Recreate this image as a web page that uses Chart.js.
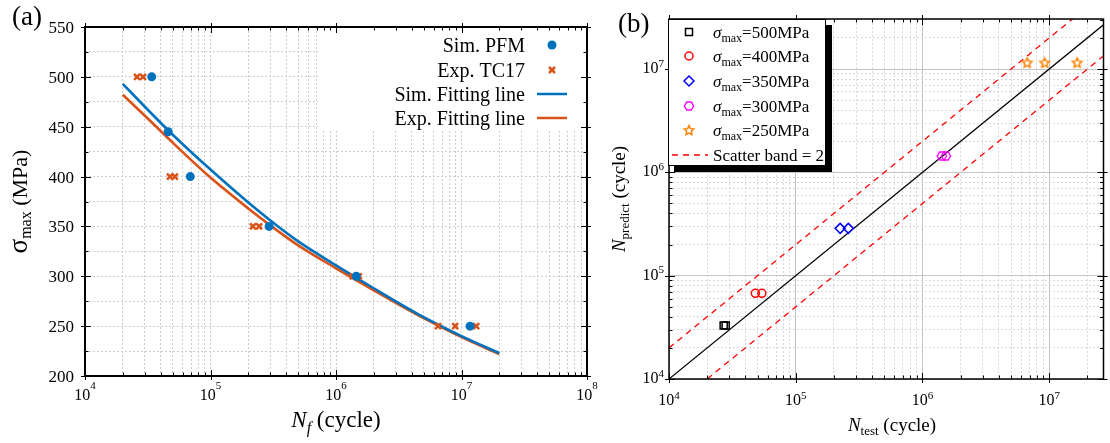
<!DOCTYPE html>
<html><head><meta charset="utf-8">
<script src="https://cdn.jsdelivr.net/npm/chart.js@4.4.1/dist/chart.umd.min.js"></script>
<style>
html,body{margin:0;padding:0;background:#fff;}
body{width:1110px;height:443px;position:relative;overflow:hidden;}
canvas{position:absolute;top:0;}
#ca{left:0;} #cb{left:610px;}
</style></head><body>
<canvas id="ca" width="610" height="443"></canvas>
<canvas id="cb" width="500" height="443"></canvas>
<script>
// ---------------- data ----------------
const decadesA = [1e4, 1e5, 1e6, 1e7, 1e8];
const decadesB = [1e4, 1e5, 1e6, 1e7];
const mults = [1, 2, 3, 4, 5, 6, 7, 8, 9];
const stressTicks = [200, 225, 250, 275, 300, 325, 350, 375, 400, 425, 450, 475, 500, 525, 550];
const stressLabels = [200, 250, 300, 350, 400, 450, 500, 550];

const simN = [3.4e4, 4.6e4, 6.9e4, 2.93e5, 1.45e6, 1.17e7];
const simS = [500, 445, 400, 350, 300, 250];
const expN = [2.6e4, 2.9e4, 4.75e4, 5.2e4, 2.18e5, 2.44e5, 1.36e6, 1.52e6, 6.5e6, 8.9e6, 1.31e7];
const expS = [500, 500, 400, 400, 350, 350, 300, 300, 250, 250, 250];
const fitN   = [2e4, 3e4, 5e4, 1e5, 2e5, 3e5, 5e5, 1e6, 2e6, 5e6, 1e7, 2e7];
const simFit = [493, 470, 442, 407, 374, 356, 335, 311, 288, 259, 240, 223];
const expFit = [482, 461, 434, 399, 368, 351, 331, 308, 286, 258, 239, 222];
const labelsA = ['Sim. PFM', 'Exp. TC17', 'Sim. Fitting line', 'Exp. Fitting line'];

const stressLevels = ['500', '400', '350', '300', '250'];
const test500 = [2.7e4, 2.8e4],  pred500 = [3.3e4, 3.3e4];
const test400 = [4.8e4, 5.4e4],  pred400 = [6.75e4, 6.75e4];
const test350 = [2.24e5, 2.6e5], pred350 = [2.87e5, 2.87e5];
const test300 = [1.42e6, 1.53e6], pred300 = [1.44e6, 1.44e6];
const test250 = [6.7e6, 9.2e6, 1.66e7], pred250 = [1.16e7, 1.16e7, 1.16e7];
const idealN = [1e4, 4e7], idealP = [1e4, 4e7];
const upperN = [1e4, 2e7], upperP = [2e4, 4e7];
const lowerN = [2e4, 4e7], lowerP = [1e4, 2e7];
const bandLabel = 'Scatter band = 2';

// ---------------- helpers ----------------
const SERIF = '"Liberation Serif","Times New Roman",Times,serif';
const pts = (xs, ys) => xs.map((v, i) => ({x: v, y: ys[i]}));
const isPow10 = v => Math.abs(Math.log10(v) - Math.round(Math.log10(v))) < 1e-9;
function logTicks(decs, min, max) {
  const out = [];
  decs.forEach(d => mults.forEach(m => { const v = d * m; if (v >= min * 0.999 && v <= max * 1.001) out.push(v); }));
  return out;
}
function fnt(size, italic) { return (italic ? 'italic ' : '') + size + 'px ' + SERIF; }
function drawRich(ctx, parts, x, y, align) {
  let w = 0;
  parts.forEach(p => { ctx.font = fnt(p[1], p[2]); w += ctx.measureText(p[0]).width; });
  let cx = align === 'center' ? x - w / 2 : (align === 'right' ? x - w : x);
  ctx.textAlign = 'left';
  ctx.textBaseline = 'alphabetic';
  parts.forEach(p => { ctx.font = fnt(p[1], p[2]); ctx.fillText(p[0], cx, y + (p[3] || 0)); cx += ctx.measureText(p[0]).width; });
}
function seg(ctx, x1, y1, x2, y2) { ctx.beginPath(); ctx.moveTo(x1, y1); ctx.lineTo(x2, y2); ctx.stroke(); }
function drawTicksFrame(chart, isMajX, isMajY, frameW) {
  const {ctx, chartArea: a, scales: {x, y}} = chart;
  ctx.save();
  ctx.strokeStyle = '#000';
  ctx.lineWidth = 1;
  x.ticks.forEach(t => {
    const px = Math.round(x.getPixelForValue(t.value)) + 0.5;
    const maj = isMajX(t.value);
    const inL = maj ? 6 : 3.5, outL = maj ? 4 : 0;
    seg(ctx, px, a.bottom + outL, px, a.bottom - inL);
    seg(ctx, px, a.top - outL, px, a.top + inL);
  });
  y.ticks.forEach(t => {
    const py = Math.round(y.getPixelForValue(t.value)) + 0.5;
    const maj = isMajY(t.value);
    const inL = maj ? 6 : 3.5, outL = maj ? 4 : 0;
    seg(ctx, a.left - outL, py, a.left + inL, py);
    seg(ctx, a.right + outL, py, a.right - inL, py);
  });
  ctx.lineWidth = frameW;
  ctx.strokeRect(a.left, a.top, a.right - a.left, a.bottom - a.top);
  ctx.restore();
}
function makeStar(color, r) {
  const s = Math.ceil(2 * r + 4), c = document.createElement('canvas');
  c.width = c.height = s;
  const g = c.getContext('2d');
  g.strokeStyle = color; g.lineWidth = 1.5; g.lineJoin = 'miter';
  g.beginPath();
  for (let i = 0; i < 10; i++) {
    const rr = i % 2 ? r * 0.48 : r, ang = -Math.PI / 2 + i * Math.PI / 5;
    g.lineTo(s / 2 + rr * Math.cos(ang), s / 2 + 0.6 + rr * Math.sin(ang));
  }
  g.closePath(); g.stroke();
  return c;
}
function makeHex(color, r) {
  const s = Math.ceil(2 * r + 4), c = document.createElement('canvas');
  c.width = c.height = s;
  const g = c.getContext('2d');
  g.strokeStyle = color; g.lineWidth = 1.4;
  g.beginPath();
  for (let i = 0; i < 6; i++) {
    const ang = i * Math.PI / 3;
    g.lineTo(s / 2 + r * Math.cos(ang), s / 2 + r * Math.sin(ang));
  }
  g.closePath(); g.stroke();
  return c;
}

// ---------------- panel (a) ----------------
const BLUE = '#0072BD', ORANGE = '#D95319';
const ticksA = logTicks(decadesA, 1e4, 1e8);

const plugA = {
  id: 'decoA',
  beforeDatasetsDraw(chart) {
    const {ctx, chartArea: a} = chart;
    ctx.save(); ctx.fillStyle = '#fff';
    ctx.fillRect(318, a.top + 1, a.right - 318, 128 - a.top);
    ctx.restore();
  },
  afterDraw(chart) {
    const {ctx, chartArea: a, scales: {x, y}} = chart;
    drawTicksFrame(chart, isPow10, v => v % 50 === 0, 2);
    ctx.save();
    ctx.fillStyle = '#000';
    decadesA.forEach(v => {
      const px = x.getPixelForValue(v);
      drawRich(ctx, [['10', 16], [String(Math.round(Math.log10(v))), 11, false, -11]], px, 400, 'center');
    });
    ctx.font = fnt(17); ctx.textAlign = 'right'; ctx.textBaseline = 'alphabetic';
    stressLabels.forEach(v => ctx.fillText(String(v), 74, y.getPixelForValue(v) + 6));
    // axis titles
    drawRich(ctx, [['N', 23, true], ['f', 16, true, 6], [' (cycle)', 23]], (a.left + a.right) / 2, 427, 'center');
    ctx.save();
    ctx.translate(27, (a.top + a.bottom) / 2);
    ctx.rotate(-Math.PI / 2);
    drawRich(ctx, [['σ', 27], ['max', 16, false, 4], [' (MPa)', 22]], 0, 0, 'center');
    ctx.restore();
    drawRich(ctx, [['(a)', 27]], 12, 25, 'left');
    // legend
    const rows = [45, 70, 94, 118];
    const ds = chart.data.datasets;
    rows.forEach((ry, i) => {
      ctx.fillStyle = '#000';
      drawRich(ctx, [[labelsA[i], 20]], 525, ry + 7, 'right');
    });
    ctx.fillStyle = ds[0].backgroundColor;
    ctx.beginPath(); ctx.arc(552, rows[0], 4.5, 0, Math.PI * 2); ctx.fill();
    ctx.strokeStyle = ds[1].borderColor; ctx.lineWidth = 2.5;
    seg(ctx, 549, rows[1] - 3, 555, rows[1] + 3); seg(ctx, 549, rows[1] + 3, 555, rows[1] - 3);
    ctx.lineWidth = 2.5;
    ctx.strokeStyle = ds[2].borderColor; seg(ctx, 537, rows[2], 567, rows[2]);
    ctx.strokeStyle = ds[3].borderColor; seg(ctx, 537, rows[3], 567, rows[3]);
    ctx.restore();
  }
};

new Chart(document.getElementById('ca'), {
  type: 'scatter',
  data: {
    datasets: [
      {label: labelsA[0], data: pts(simN, simS), backgroundColor: BLUE, borderColor: BLUE, pointStyle: 'circle', pointRadius: 4.5, borderWidth: 0},
      {label: labelsA[1], data: pts(expN, expS), backgroundColor: ORANGE, borderColor: ORANGE, pointStyle: 'crossRot', pointRadius: 4.2, borderWidth: 2.5},
      {label: labelsA[2], data: pts(fitN, simFit), showLine: true, borderColor: BLUE, backgroundColor: BLUE, borderWidth: 2.6, pointRadius: 0, cubicInterpolationMode: 'monotone'},
      {label: labelsA[3], data: pts(fitN, expFit), showLine: true, borderColor: ORANGE, backgroundColor: ORANGE, borderWidth: 2.6, pointRadius: 0, cubicInterpolationMode: 'monotone'}
    ]
  },
  options: {
    responsive: false, animation: false,
    layout: {padding: {left: 0, right: 23, top: 27, bottom: 0}},
    plugins: {legend: {display: false}, tooltip: {enabled: false}},
    scales: {
      x: {type: 'logarithmic', min: 1e4, max: 1e8,
          afterBuildTicks: s => { s.ticks = ticksA.map(v => ({value: v, major: isPow10(v)})); },
          afterFit: s => { s.height = 67; },
          ticks: {display: false},
          grid: {color: '#cfcfcf', lineWidth: 1, drawTicks: false},
          border: {display: false, dash: [2, 2]}},
      y: {type: 'linear', min: 200, max: 550,
          afterBuildTicks: s => { s.ticks = stressTicks.map(v => ({value: v})); },
          afterFit: s => { s.width = 85; },
          ticks: {display: false},
          grid: {color: '#cfcfcf', lineWidth: 1, drawTicks: false},
          border: {display: false, dash: [2, 2]}}
    }
  },
  plugins: [plugA]
});

// ---------------- panel (b) ----------------
const XMAXB = 2.68e7, YMAXB = 3.05e7;
const ticksBx = logTicks(decadesB, 1e4, XMAXB);
const ticksBy = logTicks(decadesB, 1e4, YMAXB);
const starImg = makeStar('#FF8000', 5);
const hexImg = makeHex('#FF00FF', 4.6);
const markerStyles = [
  {pointStyle: 'rect', pointRadius: 5, borderColor: '#000000'},
  {pointStyle: 'circle', pointRadius: 4, borderColor: '#FF0000'},
  {pointStyle: 'rectRot', pointRadius: 5, borderColor: '#0000FF'},
  {pointStyle: hexImg, pointRadius: 5, borderColor: '#FF00FF'},
  {pointStyle: starImg, pointRadius: 5, borderColor: '#FF8000'}
];
const seriesB = [[test500, pred500], [test400, pred400], [test350, pred350], [test300, pred300], [test250, pred250]];

const plugB = {
  id: 'decoB',
  afterDraw(chart) {
    const {ctx, chartArea: a, scales: {x, y}} = chart;
    drawTicksFrame(chart, isPow10, isPow10, 1.5);
    ctx.save();
    ctx.fillStyle = '#000';
    decadesB.forEach(v => {
      const e = String(Math.round(Math.log10(v)));
      drawRich(ctx, [['10', 16], [e, 11, false, -6.5]], x.getPixelForValue(v), 405, 'center');
      drawRich(ctx, [['10', 16], [e, 11, false, -6.5]], 54, y.getPixelForValue(v) + 4, 'right');
    });
    drawRich(ctx, [['N', 19, true], ['test', 13, false, 4], [' (cycle)', 19]], 282, 431, 'center');
    ctx.save();
    ctx.translate(15, (a.top + a.bottom) / 2);
    ctx.rotate(-Math.PI / 2);
    drawRich(ctx, [['N', 19, true], ['predict', 13, false, 4], [' (cycle)', 19]], 0, 0, 'center');
    ctx.restore();
    drawRich(ctx, [['(b)', 27]], 8, 32, 'left');
    // legend box with shadow
    const lx = a.left - 1, ly = a.top, lw = 157, lh = 146;
    ctx.fillStyle = '#000';
    ctx.fillRect(lx + 6, ly + 6, lw + 1, lh + 1);
    ctx.fillStyle = '#fff';
    ctx.fillRect(lx, ly, lw, lh);
    ctx.strokeStyle = '#000'; ctx.lineWidth = 1;
    ctx.strokeRect(lx + 0.5, ly + 0.5, lw, lh);
    const rows = [32, 56, 81, 106, 130, 155];
    const ds = chart.data.datasets;
    for (let i = 0; i < 5; i++) {
      const st = ds[i];
      const ry = rows[i];
      const sx = 79;
      ctx.strokeStyle = st.borderColor; ctx.lineWidth = 1.5;
      if (i === 0) { ctx.strokeRect(sx - 3.5, ry - 3.5, 7, 7); }
      else if (i === 1) { ctx.beginPath(); ctx.arc(sx, ry, 4, 0, Math.PI * 2); ctx.stroke(); }
      else if (i === 2) { ctx.beginPath(); ctx.moveTo(sx, ry - 5); ctx.lineTo(sx + 5, ry); ctx.lineTo(sx, ry + 5); ctx.lineTo(sx - 5, ry); ctx.closePath(); ctx.stroke(); }
      else { const im = st.pointStyle; ctx.drawImage(im, sx - im.width / 2, ry - im.height / 2); }
      ctx.fillStyle = '#000';
      drawRich(ctx, [['σ', 17, true], ['max', 12, false, 4], ['=' + stressLevels[i] + 'MPa', 17]], 103, ry + 6, 'left');
    }
    ctx.strokeStyle = '#FF0000'; ctx.lineWidth = 1.3; ctx.setLineDash([6, 5]);
    seg(ctx, 62, rows[5], 98, rows[5]);
    ctx.setLineDash([]);
    drawRich(ctx, [[bandLabel, 17]], 103, rows[5] + 6, 'left');
    ctx.restore();
  }
};

const dsB = seriesB.map((s, i) => ({
  label: 'σmax=' + stressLevels[i] + 'MPa', data: pts(s[0], s[1]),
  pointStyle: markerStyles[i].pointStyle, pointRadius: markerStyles[i].pointRadius,
  borderColor: markerStyles[i].borderColor, backgroundColor: 'rgba(0,0,0,0)', borderWidth: 1.5
}));
dsB.push({label: 'ideal', data: pts(idealN, idealP), showLine: true, borderColor: '#000', borderWidth: 1.2, pointRadius: 0, clip: 0});
dsB.push({label: bandLabel, data: pts(upperN, upperP), showLine: true, borderColor: '#FF0000', borderWidth: 1.3, borderDash: [6, 5], pointRadius: 0, clip: 0});
dsB.push({label: bandLabel + ' ', data: pts(lowerN, lowerP), showLine: true, borderColor: '#FF0000', borderWidth: 1.3, borderDash: [6, 5], pointRadius: 0, clip: 0});

const gridColorB = c => (c.tick && isPow10(c.tick.value)) ? '#c4c4c4' : '#d9d9d9';
const gridDashB = c => (c.tick && isPow10(c.tick.value)) ? [] : [2, 2];

new Chart(document.getElementById('cb'), {
  type: 'scatter',
  data: {datasets: dsB},
  options: {
    responsive: false, animation: false,
    layout: {padding: {left: 0, right: 1, top: 19, bottom: 0}},
    plugins: {legend: {display: false}, tooltip: {enabled: false}},
    scales: {
      x: {type: 'logarithmic', min: 1e4, max: XMAXB,
          afterBuildTicks: s => { s.ticks = ticksBx.map(v => ({value: v, major: isPow10(v)})); },
          afterFit: s => { s.height = 64; },
          ticks: {display: false},
          grid: {color: gridColorB, lineWidth: 1, drawTicks: false},
          border: {display: false, dash: gridDashB}},
      y: {type: 'logarithmic', min: 1e4, max: YMAXB,
          afterBuildTicks: s => { s.ticks = ticksBy.map(v => ({value: v, major: isPow10(v)})); },
          afterFit: s => { s.width = 59; },
          ticks: {display: false},
          grid: {color: gridColorB, lineWidth: 1, drawTicks: false},
          border: {display: false, dash: gridDashB}}
    }
  },
  plugins: [plugB]
});
</script>
</body></html>
